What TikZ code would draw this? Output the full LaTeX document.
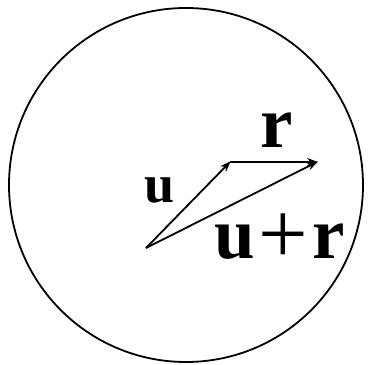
\documentclass[tikz,border=0pt]{standalone}
\usepackage{fontspec}
\setmainfont{Liberation Serif}
\usetikzlibrary{arrows.meta, positioning}

\begin{document}
\begin{tikzpicture}[
  x=1pt, y=1pt,
  vec/.style={-{Stealth[length=11pt, width=8pt]}, line width=1.8pt, shorten >=-1pt},
  lbl/.style={font=\fontsize{73}{73}\selectfont\bfseries, anchor=base, inner sep=0pt},
  smalllbl/.style={font=\fontsize{54}{54}\selectfont\bfseries, anchor=base, inner sep=0pt}
]

\useasboundingbox (0,0) rectangle (369,364);

% Disc
\draw[line width=1.8pt] (186,179) circle (177);

% Points
\coordinate (O) at (146,116);
\coordinate (U) at (230,202);
\coordinate (S) at (317,202);

% Vectors
\draw[vec] (O) -- (U);
\draw[vec] (U) -- (S);
\draw[vec] (O) -- (S);

% Labels
\node[smalllbl] (lu)  at (160,161) {u};
\node[lbl]      (lr)  at (277,216) {r};
\node[lbl]      (lur) at (280,105) {u\kern3pt\raisebox{-5pt}{\mdseries\fontsize{88}{88}\selectfont+}\kern5pt r};

\end{tikzpicture}
\end{document}
